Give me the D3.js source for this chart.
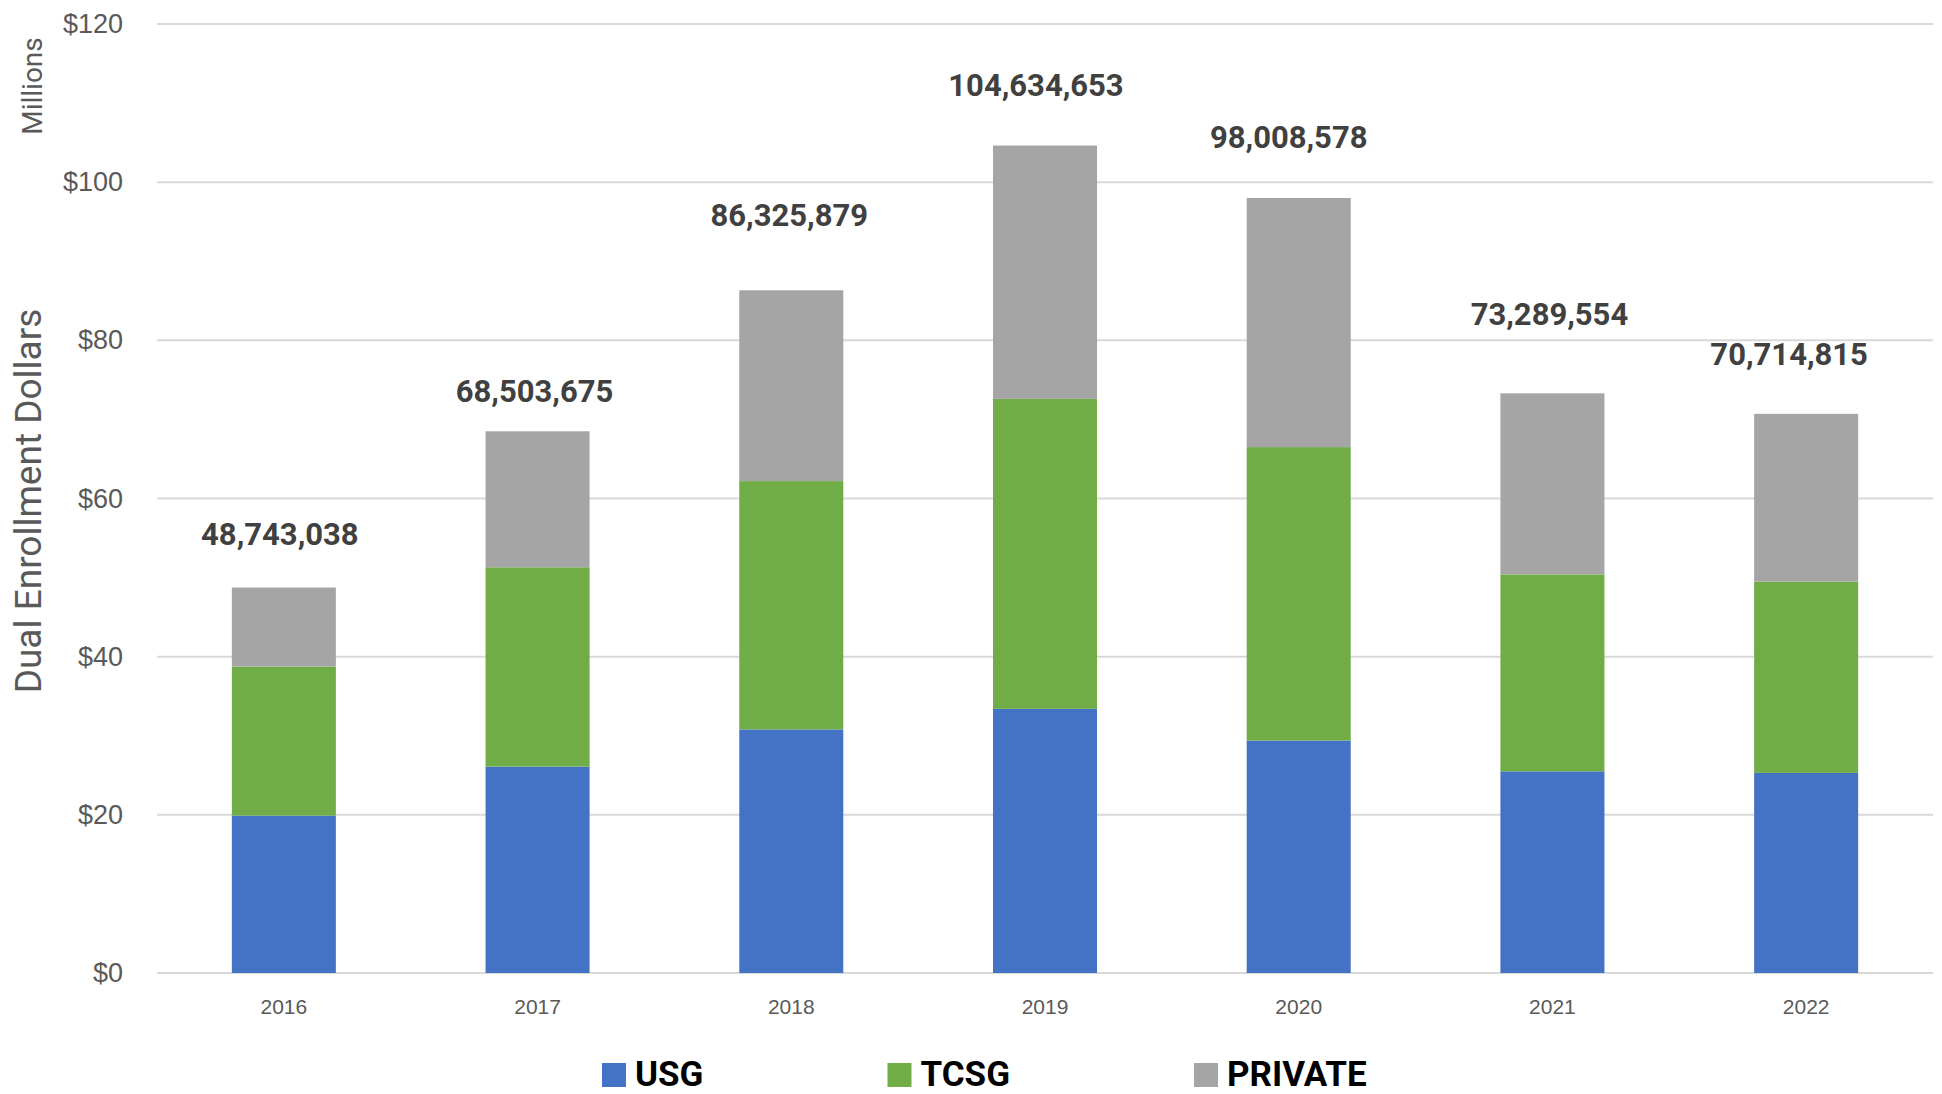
<!DOCTYPE html>
<html>
<head>
<meta charset="utf-8">
<script src="https://cdn.jsdelivr.net/npm/d3@7"></script>
<style>
  html, body { margin: 0; padding: 0; background: #fff; }
  svg { display: block; font-family: Roboto, "Noto Sans", sans-serif; }
</style>
</head>
<body>
<div id="chart"></div>
<script>
// values in millions of dollars
const years = ['2016', '2017', '2018', '2019', '2020', '2021', '2022'];
const usg = [19.9, 26.1, 30.8, 33.4, 29.4, 25.5, 25.3];
const tcsg = [18.85, 25.2, 31.4, 39.2, 37.1, 24.9, 24.2];
const privateVals = [9.99, 17.2, 24.13, 32.03, 31.5, 22.9, 21.2];
const totals = [48743038, 68503675, 86325879, 104634653, 98008578, 73289554, 70714815];
const yTicks = [0, 20, 40, 60, 80, 100, 120];
const seriesNames = ['USG', 'TCSG', 'PRIVATE'];
const colors = ['#4472C4', '#70AD47', '#A5A5A5'];

// the total labels were hand placed in the original, nudge them the same way (px)
const labelDx = [-4, -3, -2, -9, -10, -3, -17];
const labelDy = [-43, -29, -64, -50, -50, -68, -49];

const width = 1942;
const height = 1094;
const margin = { top: 24, right: 9, bottom: 121, left: 157 };
const chartWidth = width - margin.left - margin.right;
const chartHeight = height - margin.top - margin.bottom;

const svg = d3.select('#chart')
   .append('svg')
   .attr('width', width)
   .attr('height', height);

const chart = svg.append('g')
   .attr('transform', `translate(${margin.left},${margin.top})`);

const xScale = d3.scaleBand()
   .domain(years)
   .range([0, chartWidth])
   .paddingInner(0.59)
   .paddingOuter(0.295);

const yScale = d3.scaleLinear()
   .domain([0, 120])
   .range([chartHeight, 0]);

// gridlines
chart.append('g')
   .selectAll('line')
   .data(yTicks)
   .enter()
   .append('line')
   .attr('x1', 0)
   .attr('x2', chartWidth)
   .attr('y1', d => yScale(d))
   .attr('y2', d => yScale(d))
   .attr('stroke', '#D9D9D9')
   .attr('stroke-width', 2);

// y axis labels
const yAxis = d3.axisLeft(yScale)
   .tickValues(yTicks)
   .tickSize(0)
   .tickPadding(34)
   .tickFormat(d => '$' + d);

chart.append('g')
   .call(yAxis)
   .call(g => g.select('.domain').remove())
   .selectAll('text')
   .attr('fill', '#595959')
   .style('font-size', '27px');

// x axis labels
const xAxis = d3.axisBottom(xScale)
   .tickSize(0)
   .tickPadding(26);

chart.append('g')
   .attr('transform', `translate(0,${chartHeight})`)
   .call(xAxis)
   .call(g => g.select('.domain').remove())
   .selectAll('text')
   .attr('fill', '#595959')
   .style('font-size', '21px');

// stacked bars
const table = years.map((y, i) => ({ year: y, USG: usg[i], TCSG: tcsg[i], PRIVATE: privateVals[i] }));
const stacked = d3.stack().keys(seriesNames)(table);

chart.selectAll('.layer')
   .data(stacked)
   .enter()
   .append('g')
   .attr('fill', (d, i) => colors[i])
   .selectAll('rect')
   .data(d => d)
   .enter()
   .append('rect')
   .attr('x', d => xScale(d.data.year))
   .attr('y', d => yScale(d[1]))
   .attr('height', d => yScale(d[0]) - yScale(d[1]))
   .attr('width', xScale.bandwidth());

// total labels
const fmt = d3.format(',');
chart.selectAll('.total-label')
   .data(totals)
   .enter()
   .append('text')
   .attr('x', (d, i) => xScale(years[i]) + xScale.bandwidth() / 2 + labelDx[i])
   .attr('y', (d, i) => yScale(d / 1e6) + labelDy[i])
   .attr('text-anchor', 'middle')
   .attr('fill', '#404040')
   .style('font-size', '31px')
   .style('font-weight', 'bold')
   .text(d => fmt(d));

// axis titles
svg.append('text')
   .attr('transform', 'translate(42,86) rotate(-90)')
   .attr('text-anchor', 'middle')
   .attr('fill', '#595959')
   .style('font-size', '28px')
   .text('Millions');

svg.append('text')
   .attr('transform', 'translate(41,501) rotate(-90)')
   .attr('text-anchor', 'middle')
   .attr('fill', '#595959')
   .style('font-size', '37px')
   .text('Dual Enrollment Dollars');

// legend
const legend = svg.append('g');
let cursor = 602;
seriesNames.forEach((name, i) => {
   legend.append('rect')
      .attr('x', cursor)
      .attr('y', 1063)
      .attr('width', 24)
      .attr('height', 24)
      .attr('fill', colors[i]);
   const t = legend.append('text')
      .attr('x', cursor + 33)
      .attr('y', 1086)
      .attr('fill', '#000')
      .style('font-size', '35px')
      .style('font-weight', 'bold')
      .text(name);
   cursor += 33 + t.node().getComputedTextLength() + 184;
});
</script>
</body>
</html>
